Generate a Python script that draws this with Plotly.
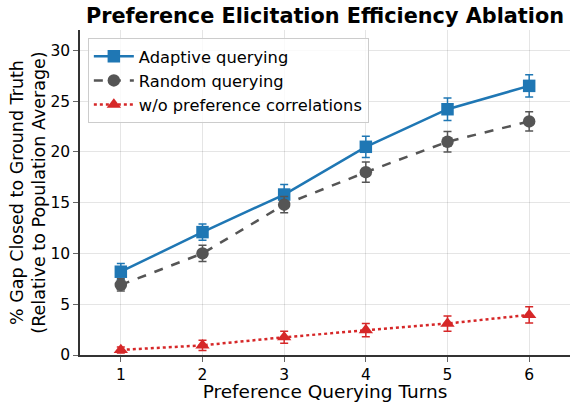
import plotly.graph_objects as go

turns = [1, 2, 3, 4, 5, 6]
adaptive = [8.2, 12.1, 15.8, 20.5, 24.2, 26.5]
adaptive_err = [0.8, 0.8, 1.0, 1.05, 1.1, 1.1]
random_q = [6.9, 10.0, 14.8, 18.0, 21.0, 23.0]
random_err = [0.6, 0.8, 0.8, 1.0, 1.0, 0.95]
no_corr = [0.5, 0.95, 1.75, 2.45, 3.1, 3.95]
no_corr_err = [0.3, 0.5, 0.6, 0.65, 0.75, 0.8]

FONT = "DejaVu Sans"
fig = go.Figure()

series = [
    ("Adaptive querying", adaptive, adaptive_err, "#1f77b4", "solid", "square"),
    ("Random querying", random_q, random_err, "#555555", "dash", "circle"),
    ("w/o preference correlations", no_corr, no_corr_err, "#d62728", "dot", "triangle-up"),
]
for name, ys, errs, color, dash, sym in series:
    fig.add_trace(go.Scatter(
        x=turns, y=ys, name=name, mode="lines+markers",
        line=dict(color=color, width=2.5, dash=dash),
        marker=dict(symbol=sym, size=12.5, color=color),
        error_y=dict(type="data", array=errs, visible=True, color=color,
                     thickness=1.5, width=4),
    ))

fig.update_layout(
    width=571, height=402,
    margin=dict(l=80, r=1, t=30, b=47, autoexpand=False),
    paper_bgcolor="white", plot_bgcolor="white",
    font=dict(family=FONT, size=15, color="black"),
    title=dict(text="<b>Preference Elicitation Efficiency Ablation</b>",
               xref="paper", x=0.5, xanchor="center",
               yref="container", y=0.962, yanchor="middle",
               font=dict(size=20.8, family=FONT, color="black")),
    legend=dict(x=0.016, y=0.975, xanchor="left", yanchor="top",
                bgcolor="rgba(255,255,255,0.8)", bordercolor="#cccccc",
                borderwidth=1, font=dict(size=16.3, family=FONT),
                tracegroupgap=0, itemwidth=40),
    showlegend=True,
)
fig.update_xaxes(
    range=[0.5, 6.5], tickvals=turns, ticktext=[str(t) for t in turns],
    showgrid=True, gridcolor="rgba(0,0,0,0.1)", gridwidth=1,
    showline=True, linecolor="#333333", linewidth=1.5,
    ticks="outside", ticklen=5, tickcolor="#666666",
    zeroline=False, automargin=False,
    title=dict(text="Preference Querying Turns", font=dict(size=18.5, family=FONT), standoff=3),
    tickfont=dict(size=15.5),
)
fig.update_yaxes(
    range=[0, 32], tickvals=[0, 5, 10, 15, 20, 25, 30],
    showgrid=True, gridcolor="rgba(0,0,0,0.1)", gridwidth=1,
    showline=True, linecolor="#333333", linewidth=1.5,
    ticks="outside", ticklen=5, tickcolor="#666666",
    zeroline=False, automargin=False,
    title=dict(text="% Gap Closed to Ground Truth<br>(Relative to Population Average)",
               font=dict(size=17.5, family=FONT), standoff=0),
    tickfont=dict(size=15.5),
)

fig.write_html("out.html", config={"displayModeBar": False},
               post_script="document.body.style.margin='0';document.body.style.padding='0';")
